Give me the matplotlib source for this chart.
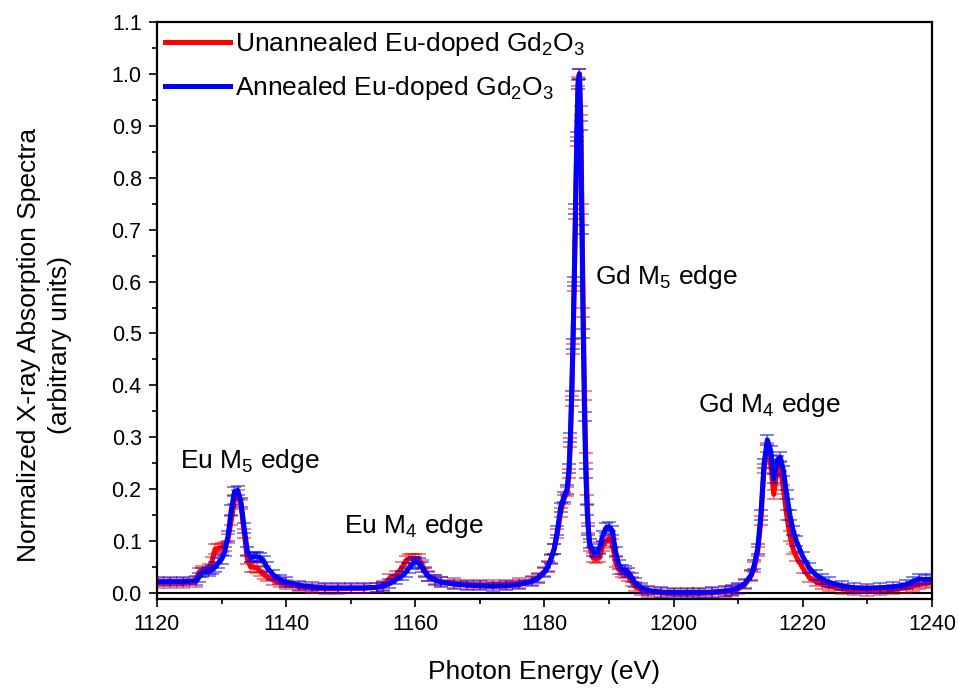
import matplotlib
matplotlib.use("Agg")
import matplotlib.pyplot as plt
from matplotlib.ticker import MultipleLocator

plt.rcParams['font.family'] = ['Liberation Sans', 'DejaVu Sans']
plt.rcParams['mathtext.fontset'] = 'custom'
plt.rcParams['mathtext.rm'] = 'Liberation Sans'
plt.rcParams['mathtext.it'] = 'Liberation Sans'
plt.rcParams['mathtext.default'] = 'regular'

# Photon energy grid (eV)
energy = [1120, 1122, 1124, 1126, 1126.5, 1127, 1128, 1128.5, 1129, 1129.5, 1130, 1130.5,
          1131, 1131.5, 1132, 1132.5, 1133, 1133.5, 1134, 1134.5, 1135, 1135.5, 1136, 1136.5,
          1137, 1138, 1139, 1140, 1142, 1144, 1146, 1148, 1150, 1152, 1154, 1155, 1156, 1157,
          1158, 1158.5, 1159, 1159.5, 1160, 1160.5, 1161, 1161.5, 1162, 1163, 1164, 1166,
          1168, 1170, 1172, 1174, 1176, 1178, 1179, 1180, 1180.5, 1181, 1181.5, 1182, 1182.5,
          1183, 1183.5, 1183.8, 1184.0, 1184.2, 1184.4, 1184.6, 1184.8, 1185.0, 1185.2, 1185.4,
          1185.6, 1185.8, 1186.0, 1186.2, 1186.4, 1186.6, 1186.8, 1187.0, 1187.5, 1188.0,
          1188.5, 1189.0, 1189.5, 1190.0, 1190.5, 1191.0, 1191.5, 1192.0, 1192.5, 1193.0,
          1193.5, 1194, 1195, 1196, 1198, 1200, 1202, 1204, 1206, 1208, 1209, 1210, 1211,
          1212, 1212.5, 1213, 1213.5, 1214, 1214.5, 1215, 1215.5, 1216, 1216.5, 1217, 1217.5,
          1218, 1218.5, 1219, 1220, 1221, 1222, 1223, 1224, 1226, 1228, 1230, 1232, 1234,
          1236, 1237, 1238, 1239, 1240]

# Annealed Eu-doped Gd2O3 (blue)
annealed = [0.022, 0.022, 0.022, 0.024, 0.030, 0.040, 0.042, 0.045, 0.050, 0.058, 0.065, 0.080,
            0.110, 0.160, 0.195, 0.198, 0.175, 0.125, 0.080, 0.068, 0.070, 0.070, 0.068, 0.062,
            0.050, 0.035, 0.026, 0.021, 0.015, 0.012, 0.010, 0.010, 0.010, 0.010, 0.011, 0.013,
            0.018, 0.026, 0.034, 0.040, 0.048, 0.056, 0.060, 0.058, 0.050, 0.040, 0.032, 0.025,
            0.021, 0.017, 0.015, 0.014, 0.013, 0.014, 0.016, 0.022, 0.028, 0.040, 0.050, 0.065,
            0.085, 0.120, 0.165, 0.185, 0.200, 0.240, 0.300, 0.380, 0.480, 0.600, 0.740, 0.880,
            0.980, 1.000, 0.900, 0.700, 0.500, 0.340, 0.230, 0.160, 0.120, 0.095, 0.080, 0.078,
            0.085, 0.110, 0.125, 0.128, 0.120, 0.080, 0.055, 0.045, 0.044, 0.040, 0.030, 0.020,
            0.010, 0.005, 0.002, 0.001, 0.001, 0.001, 0.002, 0.004, 0.006, 0.010, 0.018, 0.035,
            0.055, 0.085, 0.150, 0.250, 0.295, 0.275, 0.220, 0.255, 0.262, 0.235, 0.190, 0.150,
            0.120, 0.100, 0.070, 0.048, 0.035, 0.027, 0.021, 0.014, 0.010, 0.009, 0.010, 0.012,
            0.016, 0.022, 0.027, 0.026, 0.027]

# Unannealed Eu-doped Gd2O3 (red)
unannealed = [0.019, 0.019, 0.019, 0.021, 0.040, 0.044, 0.046, 0.060, 0.085, 0.086, 0.088, 0.090,
              0.105, 0.140, 0.180, 0.190, 0.170, 0.115, 0.065, 0.050, 0.050, 0.048, 0.042, 0.036,
              0.032, 0.025, 0.020, 0.016, 0.012, 0.009, 0.008, 0.008, 0.009, 0.009, 0.011, 0.015,
              0.028, 0.034, 0.050, 0.062, 0.066, 0.067, 0.067, 0.066, 0.055, 0.042, 0.033, 0.026,
              0.022, 0.019, 0.017, 0.016, 0.016, 0.017, 0.019, 0.024, 0.030, 0.042, 0.052, 0.066,
              0.085, 0.115, 0.155, 0.180, 0.195, 0.230, 0.290, 0.370, 0.470, 0.590, 0.730, 0.870,
              0.985, 1.000, 0.930, 0.740, 0.540, 0.380, 0.260, 0.180, 0.125, 0.090, 0.068, 0.066,
              0.068, 0.090, 0.100, 0.105, 0.095, 0.060, 0.045, 0.040, 0.038, 0.032, 0.022, 0.013,
              0.006, 0.002, 0.000, -0.002, -0.002, -0.001, 0.000, 0.002, 0.004, 0.008, 0.016, 0.033,
              0.050, 0.080, 0.140, 0.240, 0.280, 0.250, 0.190, 0.235, 0.245, 0.200, 0.150, 0.110,
              0.085, 0.070, 0.048, 0.030, 0.022, 0.017, 0.013, 0.008, 0.005, 0.004, 0.005, 0.007,
              0.010, 0.013, 0.016, 0.018, 0.020]

yerr = 0.009

labels = ['Unannealed Eu-doped Gd$_2$O$_3$', 'Annealed Eu-doped Gd$_2$O$_3$']
colors = ['#ff0000', '#0000ff']

annotations = [('Eu M$_5$ edge', 1123.6, 0.241),
               ('Eu M$_4$ edge', 1148.9, 0.116),
               ('Gd M$_5$ edge', 1187.8, 0.595),
               ('Gd M$_4$ edge', 1203.7, 0.349)]

fig = plt.figure(figsize=(9.58, 6.89), dpi=100)
ax = fig.add_axes([157/958, 1-599/689, 775/958, 577/689])

for ys, c, lab in zip([unannealed, annealed], colors, labels):
    ax.errorbar(energy, ys, yerr=yerr, fmt='none', ecolor=c, elinewidth=1.2,
                capsize=5, capthick=1.4, alpha=0.5)
    ax.plot(energy, ys, color=c, lw=3.6, label=lab, solid_joinstyle='round')

ax.axhline(0, color='black', lw=1.5, zorder=0)

ax.set_xlim(1120, 1240)
ax.set_ylim(-0.0115, 1.1)
ax.xaxis.set_major_locator(MultipleLocator(20))
ax.xaxis.set_minor_locator(MultipleLocator(10))
ax.yaxis.set_major_locator(MultipleLocator(0.1))
ax.yaxis.set_minor_locator(MultipleLocator(0.05))
ax.yaxis.set_major_formatter(plt.FormatStrFormatter('%.1f'))
ax.tick_params(which='both', direction='out', top=False, right=False, width=1.2,
               labelsize=15.5)
ax.tick_params(which='major', length=6, pad=5)
ax.tick_params(which='minor', length=3.5)
for s in ax.spines.values():
    s.set_linewidth(1.6)

ax.set_xlabel('Photon Energy (eV)', fontsize=19, labelpad=18)
ax.set_ylabel('Normalized X-ray Absorption Spectra\n(arbitrary units)', fontsize=19,
              multialignment='center', linespacing=1.35)
ax.yaxis.set_label_coords(-0.11, 0.44)

for txt, xx, yy in annotations:
    ax.text(xx, yy, txt, fontsize=19, ha='left', va='baseline')

leg = ax.legend(loc='upper left', bbox_to_anchor=(0.0, 1.0), frameon=False, fontsize=19,
                handlelength=2.45, handletextpad=0.2, labelspacing=0.6, borderaxespad=0.1,
                borderpad=0.2)

fig.savefig('out.png', dpi=100)
